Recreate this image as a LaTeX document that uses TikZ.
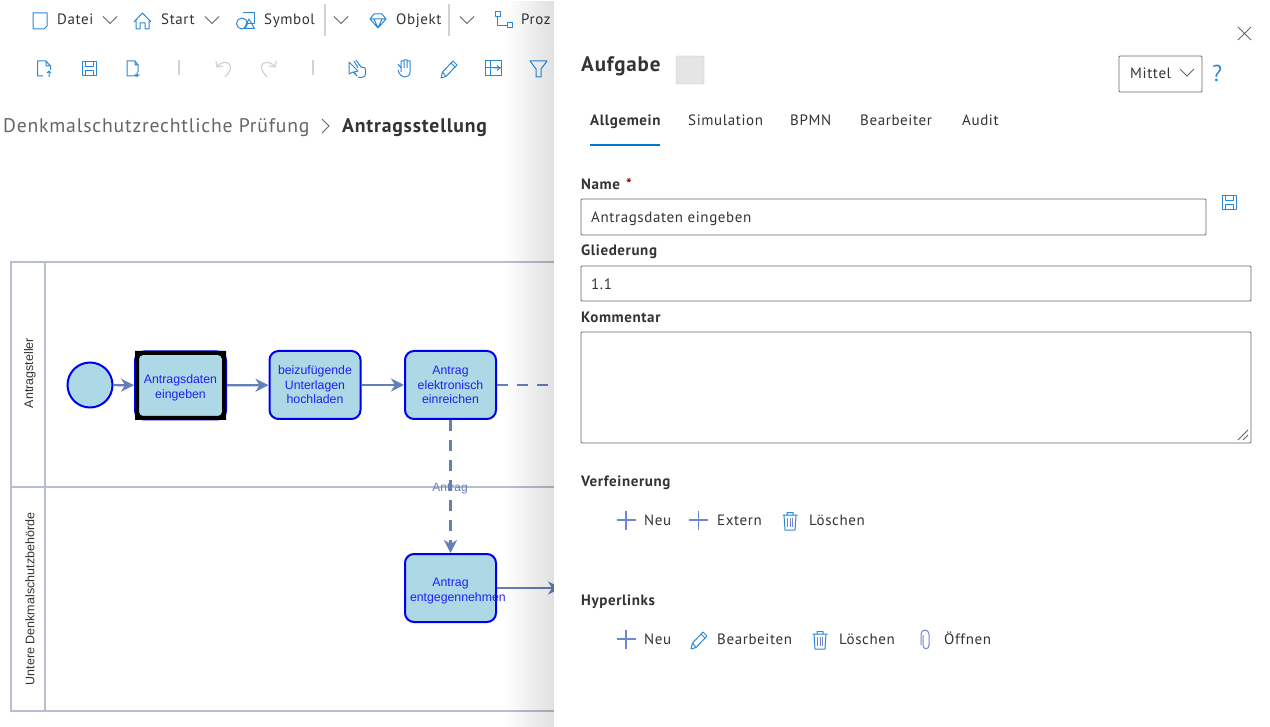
\documentclass[tikz,border=0pt]{standalone}
\usepackage{fontspec}
\setmainfont[LetterSpace=4]{PT Sans}
\newfontfamily\diagramfont{Liberation Sans}
\usepackage{xcolor}
\usetikzlibrary{arrows.meta,fadings}
\definecolor{uitext}{HTML}{333333}
\definecolor{muted}{HTML}{666666}
\definecolor{iconblue}{HTML}{2B88D8}
\definecolor{tabblue}{HTML}{0078D4}
\definecolor{plusblue}{HTML}{6F86D6}
\definecolor{lane}{HTML}{B8BED0}
\definecolor{flow}{HTML}{6580B8}
\definecolor{taskfill}{HTML}{ADD8E6}
\definecolor{taskdraw}{HTML}{0000F0}
\definecolor{tasktext}{HTML}{2020F0}
\definecolor{disabled}{HTML}{D2D2D2}
\tikzset{
  lbl/.style={text=uitext, font=\fontsize{15}{17}\selectfont, anchor=base west, inner sep=0pt},
  lblb/.style={lbl, font=\fontsize{15}{17}\selectfont\bfseries},
  field/.style={draw=muted, line width=0.9pt, rounded corners=1pt, fill=white},
  lanebox/.style={draw=lane, line width=2pt},
  lanetxt/.style={text=uitext, font=\diagramfont\fontsize{12.5}{14}\selectfont, rotate=90, inner sep=0pt},
  task/.style={draw=taskdraw, fill=taskfill, line width=2pt, rounded corners=9pt, minimum width=91pt,
    minimum height=68pt, inner sep=0pt, align=center, text=tasktext, text width=91pt,
    font=\diagramfont\fontsize{12.3}{14.6}\selectfont},
  flowline/.style={draw=flow, line width=2.2pt, -{Stealth[length=13pt,width=13pt,inset=4pt]}},
  flowdash/.style={flowline, dash pattern=on 11pt off 9pt},
  ico/.style={draw=iconblue, line width=1pt, line join=round},
  chev/.style={draw=muted, line width=0.8pt},
  sepline/.style={draw=disabled, line width=1.3pt},
  chevron/.pic={\draw[chev] (-7,-3.5) -- (0,3.5) -- (7,-3.5);},
  plusico/.pic={\draw[plusblue, line width=1.1pt] (-9.5,0) -- (9.5,0) (0,-9.5) -- (0,9.5);},
  trashico/.pic={\draw[ico] (-6,-6) -- (-5,9) -- (5,9) -- (6,-6) (-7.5,-6) -- (7.5,-6) (-3,-6) -- (-3,-8.5) -- (3,-8.5) -- (3,-6);
    \draw[plusblue, line width=0.8pt] (-2.5,-3) -- (-2.5,6) (0,-3) -- (0,6) (2.5,-3) -- (2.5,6);},
  pencilico/.pic={\draw[ico] (-8,9) -- (-6.5,3) -- (4,-8) -- (8,-4) -- (-3,7.5) -- cycle (-6.5,3) -- (-3,7.5) (2,-6) -- (6,-2);},
  saveico/.pic={\draw[ico] (-7,-7) -- (7,-7) -- (7,7) -- (-7,7) -- cycle (-4,-7) -- (-4,-2) -- (4,-2) -- (4,-7) (-4,7) -- (-4,2) -- (4,2) -- (4,7);}
}
\begin{document}
\begin{tikzpicture}[x=1pt,y=-1pt]
  \useasboundingbox (0,0) rectangle (1270,727);
  \fill[white] (0,0) rectangle (1270,727);

  % swimlanes
  \draw[lanebox] (11,262) rectangle (600,711);
  \draw[lanebox] (45,262) -- (45,711);
  \draw[lanebox] (11,487) -- (600,487);
  \node[lanetxt] (laneA) at (30,373) {Antragsteller};
  \node[lanetxt] (laneB) at (30,599) {Untere Denkmalschutzbehörde};

  % process
  \node[text=flow, font=\diagramfont\fontsize{12}{14}\selectfont, inner sep=0pt] (antrag) at (450,488.5) {Antrag};
  \node[circle, draw=taskdraw, fill=taskfill, line width=2pt, minimum size=45pt, inner sep=0pt] (start) at (90,385) {};
  \node[task] (eingeben) at (180.5,385.5) {\rule{0pt}{13pt}Antragsdaten\\eingeben};
  \node[task] (hochladen) at (315,385) {beizufügende\\Unterlagen\\hochladen};
  \node[task] (einreichen) at (450.5,385) {Antrag\\elektronisch\\einreichen};
  \node[task] (entgegen) at (450.5,588) {\rule{0pt}{14pt}Antrag\\\makebox[91pt][l]{\hspace{5pt}entgegennehmen}};
  \fill[black, even odd rule] (135,351) rectangle (226,420) [rounded corners=4pt] (139,355) rectangle (222,416);
  \coordinate (outA) at (600,385);
  \coordinate (outB) at (561,588);
  \draw[flowline] (start) -- (eingeben);
  \draw[flowline] (eingeben) -- (hochladen);
  \draw[flowline] (hochladen) -- (einreichen);
  \draw[flowdash] (einreichen) -- (outA);
  \draw[flowdash] (einreichen) -- (entgegen);
  \draw[flowline] (entgegen) -- (outB);

  % ribbon
  \foreach \nm/\tx/\px in {datei/Datei/57,startm/Start/161,symbol/Symbol/264,objekt/Objekt/396,proz/Proz/521}
    \node[lbl] (\nm) at (\px,24.5) {\tx};
  \foreach \px in {110,212,341,467}
    \pic at (\px,20) {chevron};
  \draw[sepline] (325,4) -- (325,36);
  \draw[sepline] (449,4) -- (449,36);
  \draw[ico] (33,13) -- (47,13) -- (47,26) -- (44,29) -- (33,29) -- cycle;
  \draw[ico] (134,22) -- (142.5,13) -- (151,22) (136,21) -- (136,29) -- (140,29) -- (140,23) -- (145,23) -- (145,29) -- (149,29) -- (149,21);
  \draw[ico] (242,23.5) circle (5.5);
  \draw[ico] (243,13) -- (254,13) -- (254,24) -- (248,24);
  \draw[ico] (244,28.5) -- (249,19) -- (254.5,28.5) -- cycle;
  \draw[ico] (370,19) -- (374,14) -- (382,14) -- (386,19) -- (378,28) -- cycle (370,19) -- (386,19) (374,19) -- (378,28) -- (382,19);
  \draw[ico] (495,12) rectangle (500,17);
  \draw[ico] (507,23) rectangle (512,28);
  \draw[ico] (497.5,17) -- (497.5,25.5) -- (507,25.5);

  % toolbar
  \draw[ico, shift={(3,0)}] (40,76) -- (34.5,76) -- (34.5,61) -- (43,61) -- (47.5,66) -- (47.5,70) (43,61) -- (43,66) -- (47.5,66) (46,77) -- (46,71) (44,73) -- (46,71) -- (48,73);
  \pic at (89,69) {saveico};
  \draw[ico, shift={(8,0)}] (130,76) -- (119,76) -- (119,61) -- (127,61) -- (130,65) -- (130,72) (127,61) -- (127,65) -- (130,65) (129,72) -- (129,77) (126.5,75) -- (131.5,75);
  \draw[sepline] (179,60) -- (179,75);
  \draw[sepline] (313,60) -- (313,75);
  \draw[disabled, line width=1.2pt, shift={(14,0)}] (202,61) -- (203,67) -- (209,66) (203,67) .. controls (208,59) and (221,62) .. (215,72) -- (211,77);
  \draw[disabled, line width=1.2pt, shift={(19,0)}] (257,61) -- (256,67) -- (250,66) (256,67) .. controls (251,59) and (238,62) .. (244,72) -- (248,77);
  \draw[ico, shift={(22,0)}] (327,62) -- (336,71) -- (332,72) -- (335,76) -- (331,72) -- (327,74) -- cycle;
  \draw[ico, shift={(22,0)}] (332,61) -- (336,68) (334,60) -- (339,67) -- (343,68) .. controls (345,75) and (343,79) .. (336,77);
  \draw[ico, shift={(27,0)}] (374,68) -- (371,64) (374,72) -- (374,61) -- (377,61) -- (377,68) (377,60) -- (380,60) -- (380,68) (380,61) -- (383,61) -- (383,72) .. controls (383,79) and (373,79) .. (371,70);
  \pic at (449,69) {pencilico};
  \draw[ico, shift={(32,0)}] (453,61) rectangle (469,76) (458,61) -- (458,76) (453,68) -- (469,68);
  \draw[ico, shift={(32,0)}] (461,68) -- (468,68) (465,65.5) -- (468,68) -- (465,70.5);
  \draw[ico, shift={(36,0)}] (494,61) -- (511,61) -- (505,69) -- (505,77) -- (500,77) -- (500,69) -- cycle;

  % breadcrumb
  \node[lbl, text=muted, font=\fontsize{19.7}{24}\selectfont] (crumb) at (3,133) {Denkmalschutzrechtliche Prüfung};
  \node[lblb, font=\fontsize{19.7}{24}\selectfont\bfseries] (crumbb) at (342,133) {Antragsstellung};
  \draw[chev] (322,119) -- (329,126) -- (322,133);

  % panel
  \fill[black, opacity=0.12, path fading=west] (505,0) rectangle (554,727);
  \fill[white] (554,0) rectangle (1270,727);
  \draw[chev, line width=1pt] (1238,27) -- (1251,40) (1251,27) -- (1238,40);
  \node[lblb, font=\fontsize{21}{25}\selectfont\bfseries] (aufgabe) at (581,72) {Aufgabe};
  \node[draw=black!22, fill=black!10, rounded corners=1.5pt, minimum size=28pt, inner sep=0pt] (swatch) at (690,70) {};
  \draw[field] (1119,56) rectangle (1202,92);
  \node[lbl] (mittel) at (1130,78.5) {Mittel};
  \draw[chev] (1180,69) -- (1187,76) -- (1194,69);
  \node[lbl, text=iconblue, font=\fontsize{23}{26}\selectfont] (hilfe) at (1212,82) {?};

  \foreach \nm/\tx/\px in {simulation/Simulation/688,bpmn/BPMN/790,bearbeiter/Bearbeiter/860,audit/Audit/962}
    \node[lbl] (\nm) at (\px,126) {\tx};
  \node[lblb] (allgemein) at (590,126) {Allgemein};
  \draw[tabblue, line width=2pt] (590,145) -- (660,145);

  \node[lblb] (name) at (581,190) {Name};
  \node[lblb, text=red!60!black] (stern) at (626,190) {*};
  \draw[field] (581,199) rectangle (1206,235);
  \node[lbl] (nameval) at (591,223) {Antragsdaten eingeben};
  \pic at (1229,202.5) {saveico};
  \node[lblb] (gliederung) at (581,256) {Gliederung};
  \draw[field] (581,266) rectangle (1251,301);
  \node[lbl] (gliedval) at (591,290) {1.1};
  \node[lblb] (kommentar) at (581,323) {Kommentar};
  \draw[field] (581,332) rectangle (1251,443);
  \draw[muted, line width=0.8pt] (1238,440) -- (1248,430) (1243,440) -- (1248,435);

  \node[lblb] (verfeinerung) at (581,486) {Verfeinerung};
  \pic at (626,520) {plusico};
  \node[lbl] (neuA) at (644,525) {Neu};
  \pic at (698.5,520) {plusico};
  \node[lbl] (extern) at (717,525) {Extern};
  \pic at (790,521) {trashico};
  \node[lbl] (loeschenA) at (809,525) {Löschen};

  \node[lblb] (hyperlinks) at (581,605) {Hyperlinks};
  \pic at (626,639) {plusico};
  \node[lbl] (neuB) at (644,644) {Neu};
  \pic at (699,640) {pencilico};
  \node[lbl] (bearbeiten) at (717,644) {Bearbeiten};
  \pic at (820,640) {trashico};
  \node[lbl] (loeschenB) at (839,644) {Löschen};
  \draw[plusblue, line width=1pt] (923,635) -- (923,645) .. controls (923,650) and (929,650) .. (929,645) -- (929,634) .. controls (929,629) and (921,629) .. (921,634) -- (921,645);
  \node[lbl] (oeffnen) at (944,644) {Öffnen};
\end{tikzpicture}
\end{document}
